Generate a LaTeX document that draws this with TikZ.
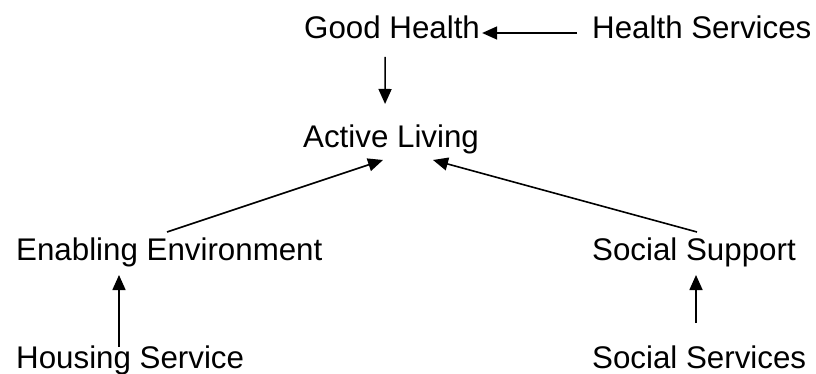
\documentclass[tikz,border=0pt]{standalone}
\usepackage{fontspec}
\setmainfont{Liberation Sans}
\usetikzlibrary{arrows.meta}
\begin{document}
\begin{tikzpicture}[x=1pt,y=-1pt,
  lbl/.style={anchor=base west,inner sep=0pt,font=\fontsize{31.3}{36}\selectfont},
  arr/.style={line width=1.6pt,-{Triangle[length=15pt,width=13pt]}}]
\useasboundingbox[fill=white] (0,0) rectangle (816,374);
\node[lbl] (gh)  at (304,39)  {Good Health};
\node[lbl] (hs)  at (592,39)  {Health Services};
\node[lbl] (al)  at (303,148) {Active Living};
\node[lbl] (ee)  at (16,260)  {Enabling Environment};
\node[lbl] (ss)  at (592,260) {Social Support};
\node[lbl] (hsv) at (16,368)  {Housing Service};
\node[lbl] (ssv) at (592,368) {Social Services};
\draw[arr] ([shift={(-15,-6)}]hs.base west) -- ([shift={(2,-6)}]gh.base east);
\draw[arr] ([shift={(-7,18)}]gh.base) -- ([shift={(-6,-44)}]al.base);
\draw[arr] ([shift={(151,-28)}]ee.base west) -- ([shift={(80,12)}]al.base west);
\draw[arr] ([shift={(105,-28)}]ss.base west) -- ([shift={(130,12)}]al.base west);
\draw[arr] ([shift={(103,-21)}]hsv.base west) -- ([shift={(103,15)}]ee.base west);
\draw[arr] ([shift={(104,-45)}]ssv.base west) -- ([shift={(104,15)}]ss.base west);
\end{tikzpicture}
\end{document}
